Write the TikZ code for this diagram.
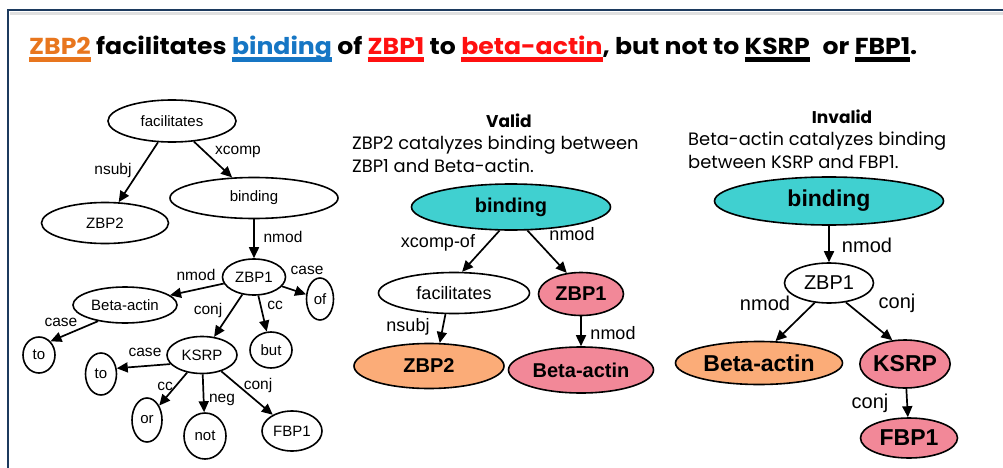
\documentclass[tikz,border=0pt]{standalone}
\usepackage{fontspec}
\setmainfont{Liberation Sans}
\newfontfamily\popfont{Poppins}
\usetikzlibrary{shapes.geometric,arrows.meta}
\definecolor{navy}{RGB}{28,58,94}
\definecolor{tealfill}{RGB}{64,208,208}
\definecolor{pinkfill}{RGB}{242,136,152}
\definecolor{orangefill}{RGB}{251,172,120}
\definecolor{tord}{RGB}{232,118,30}
\definecolor{tblue}{RGB}{22,118,196}
\definecolor{tred}{RGB}{255,16,16}
\newcommand{\uln}[1]{\setbox0=\hbox{#1}\rlap{\rule[-3pt]{\wd0}{2pt}}\box0}
\tikzset{
  el/.style={ellipse, draw, line width=1.6pt, inner sep=0pt, fill=white},
  sm/.style={el, font=\fontsize{15}{15}\selectfont},
  md/.style={el, font=\fontsize{18}{18}\selectfont},
  mdb/.style={el, font=\fontsize{20}{20}\selectfont\bfseries},
  rg/.style={el, font=\fontsize{20}{20}\selectfont},
  rgb/.style={el, font=\fontsize{23}{23}\selectfont\bfseries},
  lsm/.style={inner sep=0pt, font=\fontsize{15.5}{15.5}\selectfont},
  lmd/.style={inner sep=0pt, font=\fontsize{18}{18}\selectfont},
  lrg/.style={inner sep=0pt, font=\fontsize{20}{20}\selectfont},
  arr/.style={-{Triangle[length=11pt,width=10pt]}, line width=1.7pt},
  desc/.style={inner sep=0pt, anchor=base west, font=\popfont\fontsize{17.9}{17.9}\selectfont},
  head/.style={inner sep=0pt, anchor=base, font=\popfont\fontsize{17}{17}\selectfont\bfseries},
}
\begin{document}
\begin{tikzpicture}[x=1pt,y=-1pt]
\useasboundingbox (0,0) rectangle (1003,468);
% frame
\draw[line width=3pt, black!12] (10,14) -- (1003,14);
\draw[line width=2.6pt, navy] (8,468) -- (8,10) -- (1003,10);
% title
\node[inner sep=0pt, anchor=base west] (title) at (29,55) {\resizebox{888pt}{18.5pt}{\popfont\bfseries
 \textcolor{tord}{\uln{ZBP2}} facilitates \textcolor{tblue}{\uln{binding}} of \textcolor{tred}{\uln{ZBP1}} to \textcolor{tred}{\uln{beta-actin}}, but not to \uln{KSRP}\hspace{0.3em} or \uln{FBP1}.}};

% ===== left tree =====
\node[sm, minimum width=128pt, minimum height=42pt] (fac) at (172,121) {facilitates};
\node[sm, minimum width=127pt, minimum height=41pt] (zbp2) at (105,223) {ZBP2};
\node[sm, minimum width=168pt, minimum height=41pt] (bind) at (254,198) {binding};
\node[sm, minimum width=63pt, minimum height=36pt] (zbp1) at (254,277) {ZBP1};
\node[sm, minimum width=104pt, minimum height=36pt] (beta) at (125,305) {Beta-actin};
\node[sm, minimum width=27pt, minimum height=42pt] (of) at (320,299) {of};
\node[sm, minimum width=42pt, minimum height=36pt] (but) at (271,350) {but};
\node[sm, minimum width=32pt, minimum height=36pt] (toa) at (39,355) {to};
\node[sm, minimum width=70pt, minimum height=37pt] (ksrp) at (202,355) {KSRP};
\node[sm, minimum width=31pt, minimum height=42pt] (tob) at (101,374) {to};
\node[sm, minimum width=30pt, minimum height=44pt] (or) at (147,420) {or};
\node[sm, minimum width=42pt, minimum height=46pt] (not) at (205,436) {not};
\node[sm, minimum width=60pt, minimum height=40pt] (fbp1) at (292,431) {FBP1};

\draw[arr] (fac) -- (zbp2);
\draw[arr] (fac) -- (bind);
\draw[arr] (bind) -- (zbp1);
\draw[arr] (zbp1) -- (beta);
\draw[arr] (zbp1) -- (of);
\draw[arr] (zbp1) -- (ksrp);
\draw[arr] (zbp1) -- (but);
\draw[arr] (beta.211) -- (toa.50);
\draw[arr] (ksrp.196) -- (tob.20);
\draw[arr] (ksrp) -- (or);
\draw[arr] (ksrp) -- (not);
\draw[arr] (ksrp) -- (fbp1);

\node[lsm] (l1) at (113,170) {nsubj};
\node[lsm] (l2) at (238,152) {xcomp};
\node[lsm] (l3) at (283,237) {nmod};
\node[lsm] (l4) at (196,275) {nmod};
\node[lsm] (l5) at (307,270) {case};
\node[lsm] (l6) at (208,310) {conj};
\node[lsm] (l7) at (275,305) {cc};
\node[lsm] (l8) at (61,322) {case};
\node[lsm] (l9) at (145,352) {case};
\node[lsm] (l10) at (165,386) {cc};
\node[lsm] (l11) at (222,400) {neg};
\node[lsm] (l12) at (258,385) {conj};

% ===== valid =====
\node[head] (vhead) at (509,128) {Valid};
\node[desc] (vd1) at (352,149) {ZBP2 catalyzes binding between};
\node[desc] (vd2) at (352,172) {ZBP1 and Beta-actin.};

\node[mdb, fill=tealfill, minimum width=199pt, minimum height=46pt] (vbind) at (511,207) {binding};
\node[md, minimum width=151pt, minimum height=41pt] (vfac) at (454,293) {facilitates};
\node[mdb, fill=pinkfill, minimum width=85pt, minimum height=43pt] (vzbp1) at (581,294) {ZBP1};
\node[mdb, fill=orangefill, minimum width=150pt, minimum height=45pt] (vzbp2) at (429,366) {ZBP2};
\node[mdb, fill=pinkfill, minimum width=145pt, minimum height=46pt] (vbeta) at (581,370) {Beta-actin};

\draw[arr] (vbind.244) -- (vfac.69);
\draw[arr] (vbind.305) -- (vzbp1.124);
\draw[arr] (vfac.248) -- (vzbp2.65);
\draw[arr] (vzbp1) -- (vbeta);

\node[lmd] (vl1) at (438,243) {xcomp-of};
\node[lmd] (vl2) at (572,234) {nmod};
\node[lmd] (vl3) at (408,327) {nsubj};
\node[lmd] (vl4) at (613,333) {nmod};

% ===== invalid =====
\node[head] (ihead) at (842,124) {Invalid};
\node[desc] (id1) at (688,145) {Beta-actin catalyzes binding};
\node[desc] (id2) at (688,168) {between KSRP and FBP1.};

\node[rgb, fill=tealfill, minimum width=229pt, minimum height=48pt] (ibind) at (829,201) {binding};
\node[rg, minimum width=89pt, minimum height=40pt] (izbp1) at (829,283) {ZBP1};
\node[rgb, fill=orangefill, minimum width=167pt, minimum height=43pt] (ibeta) at (759,363) {Beta-actin};
\node[rgb, fill=pinkfill, minimum width=89pt, minimum height=48pt] (iksrp) at (905,364) {KSRP};
\node[rgb, fill=pinkfill, minimum width=97pt, minimum height=40pt] (ifbp1) at (909,438) {FBP1};

\draw[arr] (ibind) -- (izbp1);
\draw[arr] (izbp1.234) -- (ibeta.53);
\draw[arr] (izbp1.311) -- (iksrp.118);
\draw[arr] (iksrp) -- (ifbp1);

\node[lrg] (il1) at (867,245) {nmod};
\node[lrg] (il2) at (765,303) {nmod};
\node[lrg] (il3) at (897,303) {conj};
\node[lrg] (il4) at (870,403) {conj};
\end{tikzpicture}
\end{document}
